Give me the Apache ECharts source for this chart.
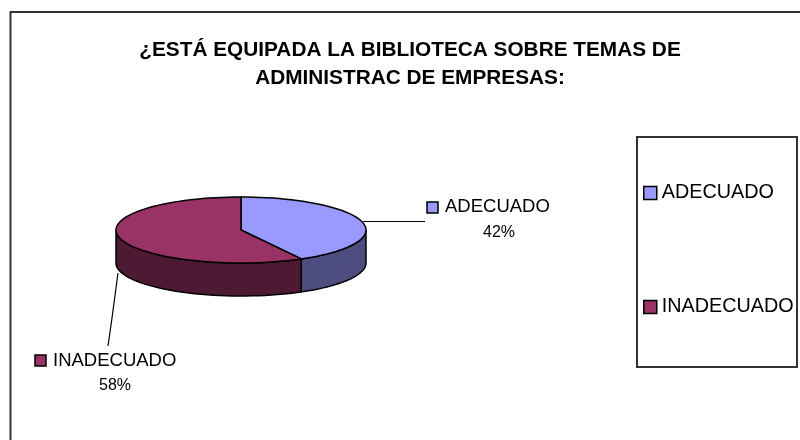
<!DOCTYPE html>
<html><head><meta charset="utf-8">
<style>html,body{margin:0;padding:0;background:#fff}#c{width:800px;height:440px}</style>
<script src="https://cdn.jsdelivr.net/npm/echarts@6/dist/echarts.min.js"></script>
</head><body><div id="c"></div>
<script>
const titleLines = ['¿ESTÁ EQUIPADA LA BIBLIOTECA SOBRE TEMAS DE', 'ADMINISTRAC DE EMPRESAS:'];
const categories = ['ADECUADO', 'INADECUADO'];
const shares = [42, 58];
const topColors = ['#9999FF', '#993366'];
const wallColors = ['#4D4D80', '#4D1933'];

const FONT = '"Liberation Sans", Arial, sans-serif';
const pie = {cx: 241, cy: 230, rx: 125, ry: 33, depth: 33};
const labelLayout = [
  {box: [427, 202], name: [445, 207], pct: [499, 233], leader: [[363, 221.5], [425, 221.5]]},
  {box: [35, 355], name: [53, 361], pct: [115, 386], leader: [[118, 273], [112, 318], [108, 346]]}
];
const total = shares.reduce((a, b) => a + b, 0);
const pt = (deg, dy) => {
  const r = deg * Math.PI / 180;
  return [pie.cx + pie.rx * Math.sin(r), pie.cy - pie.ry * Math.cos(r) + (dy || 0)];
};
const arc = (a, b, dy) => {
  const out = [], n = Math.max(2, Math.ceil(Math.abs(b - a) / 3));
  for (let i = 0; i <= n; i++) out.push(pt(a + (b - a) * i / n, dy));
  return out;
};
const stroke = {stroke: '#000', lineWidth: 1.5, lineJoin: 'miter'};

function sliceRenderer(idx) {
  return function (params, api) {
    const before = shares.slice(0, idx).reduce((a, b) => a + b, 0);
    const value = api.value(0);
    const a0 = before / total * 360, a1 = (before + value) / total * 360;
    const w0 = Math.max(a0, 90), w1 = Math.min(a1, 270);
    const L = labelLayout[idx];
    const children = [];
    if (w1 > w0) {
      children.push({type: 'polygon', shape: {points: arc(w0, w1, 0).concat(arc(w1, w0, pie.depth))},
        style: Object.assign({fill: wallColors[idx]}, stroke)});
    }
    children.push({type: 'polygon', shape: {points: [[pie.cx, pie.cy]].concat(arc(a0, a1, 0))},
      style: Object.assign({fill: topColors[idx]}, stroke)});
    children.push({type: 'polyline', shape: {points: L.leader}, style: {stroke: '#000', lineWidth: 1.2, fill: null}});
    children.push({type: 'rect', shape: {x: L.box[0], y: L.box[1], width: 11, height: 11},
      style: Object.assign({fill: topColors[idx]}, stroke)});
    children.push({type: 'text', x: L.name[0], y: L.name[1],
      style: {text: categories[idx], font: '18.5px ' + FONT, fill: '#000', textAlign: 'left', textVerticalAlign: 'middle'}});
    children.push({type: 'text', x: L.pct[0], y: L.pct[1],
      style: {text: Math.round(value / total * 100) + '%', font: '16px ' + FONT, fill: '#000', textAlign: 'center', textVerticalAlign: 'middle'}});
    return {type: 'group', children};
  };
}

const chart = echarts.init(document.getElementById('c'), null, {renderer: 'canvas'});
chart.setOption({
  animation: false,
  backgroundColor: '#fff',
  title: {
    text: titleLines.join('\n'), left: 405, top: 31, textAlign: 'center',
    textStyle: {fontFamily: FONT, fontSize: 20.8, fontWeight: 'bold', color: '#000', lineHeight: 28}
  },
  legend: {
    orient: 'vertical', left: 643, top: 183, padding: 0, itemGap: 94, itemWidth: 13, itemHeight: 13,
    icon: 'rect', selectedMode: false,
    itemStyle: {borderColor: '#000', borderWidth: 1.5},
    textStyle: {fontFamily: FONT, fontSize: 19.8, color: '#000', padding: [0, 0, 0, 0]},
    data: categories
  },
  graphic: [
    {type: 'polyline', silent: true, shape: {points: [[10.5, 440], [10.5, 12], [800, 12]]},
      style: {stroke: '#333', lineWidth: 2, fill: null}},
    {type: 'rect', silent: true, shape: {x: 637, y: 137, width: 160, height: 230},
      style: {stroke: '#333', lineWidth: 2, fill: null}}
  ],
  series: categories.map((name, i) => ({
    type: 'custom', name, coordinateSystem: 'none', silent: true,
    itemStyle: {color: topColors[i]}, clip: false,
    renderItem: sliceRenderer(i), data: [[shares[i]]]
  }))
});
</script></body></html>
